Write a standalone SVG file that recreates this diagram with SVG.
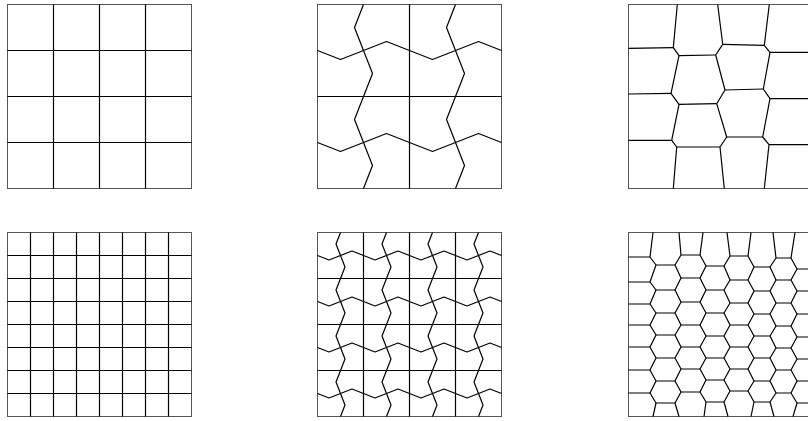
<svg xmlns="http://www.w3.org/2000/svg" width="808" height="421" viewBox="0 0 808 421">
<style>
.frame{fill:none;stroke:#555;stroke-width:1}
.ln{fill:none;stroke:#000;stroke-width:1.2;stroke-linejoin:round}
</style>
<rect width="808" height="421" fill="#fff"/>
<g id="grid-coarse">
<rect class="frame" x="7.5" y="4.5" width="184" height="184"/>
<path class="ln" d="M53.5 4.5V188.5M99.5 4.5V188.5M145.5 4.5V188.5M7.5 50.5H191.5M7.5 96.5H191.5M7.5 142.5H191.5"/>
</g>
<g id="wave-coarse">
<rect class="frame" x="317.5" y="4.5" width="184" height="184"/>
<path class="ln" d="M409.5 4.5V188.5M317.5 96.5H501.5"/>
<path class="ln" d="M317.5 50.5L340.5 59.5L386.5 41.5L409.5 50.5L432.5 59.5L478.5 41.5L501.5 50.5M317.5 142.5L340.5 151.5L386.5 133.5L409.5 142.5L432.5 151.5L478.5 133.5L501.5 142.5"/>
<path class="ln" d="M363.5 4.5L354.5 27.5L372.5 73.5L363.5 96.5L354.5 119.5L372.5 165.5L363.5 188.5M455.5 4.5L446.5 27.5L464.5 73.5L455.5 96.5L446.5 119.5L464.5 165.5L455.5 188.5"/>
</g>
<g id="voronoi-coarse">
<rect class="frame" x="628.5" y="4.5" width="184" height="184"/>
<path class="ln" d="M677.3 4.5L673.3 47.7L679 55.7L671 93.3L679 104.3L671.7 140.3L676.7 147L673.3 188.5"/>
<path class="ln" d="M717.7 4.5L722.7 44.3L715.7 55L725 90L716.7 103.7L726.7 137L720 147L724.3 188.5"/>
<path class="ln" d="M769.3 4.5L764.3 45.3L770 52.3L763.3 89L770 98.7L762.7 137L769 144.7L764.3 188.5"/>
<path class="ln" d="M628.5 48.3L673.3 47.7M628.5 94L671 93.3M628.5 140.3L671.7 140.3M679 55.7L715.7 55M679 104.3L716.7 103.7M676.7 147L720 147M722.7 44.3L764.3 45.3M725 90L763.3 89M726.7 137L762.7 137M770 52.3L812.5 52.3M770 98.7L812.5 98.7M769 144.7L812.5 144.7"/>
</g>
<g id="grid-fine">
<rect class="frame" x="7.5" y="232.5" width="184" height="184"/>
<path class="ln" d="M30.5 232.5V416.5M53.5 232.5V416.5M76.5 232.5V416.5M99.5 232.5V416.5M122.5 232.5V416.5M145.5 232.5V416.5M168.5 232.5V416.5M7.5 255.5H191.5M7.5 278.5H191.5M7.5 301.5H191.5M7.5 324.5H191.5M7.5 347.5H191.5M7.5 370.5H191.5M7.5 393.5H191.5"/>
</g>
<g id="wave-fine">
<rect class="frame" x="317.5" y="232.5" width="184" height="184"/>
<path class="ln" d="M363.5 232.5V416.5M409.5 232.5V416.5M455.5 232.5V416.5M317.5 278.5H501.5M317.5 324.5H501.5M317.5 370.5H501.5"/>
<path class="ln" d="M317.5 255.5l11.5 4.5l23 -9l11.5 4.5l11.5 4.5l23 -9l11.5 4.5l11.5 4.5l23 -9l11.5 4.5l11.5 4.5l23 -9l11.5 4.5M317.5 301.5l11.5 4.5l23 -9l11.5 4.5l11.5 4.5l23 -9l11.5 4.5l11.5 4.5l23 -9l11.5 4.5l11.5 4.5l23 -9l11.5 4.5M317.5 347.5l11.5 4.5l23 -9l11.5 4.5l11.5 4.5l23 -9l11.5 4.5l11.5 4.5l23 -9l11.5 4.5l11.5 4.5l23 -9l11.5 4.5M317.5 393.5l11.5 4.5l23 -9l11.5 4.5l11.5 4.5l23 -9l11.5 4.5l11.5 4.5l23 -9l11.5 4.5l11.5 4.5l23 -9l11.5 4.5"/>
<path class="ln" d="M340.5 232.5l-4.5 11.5l9 23l-4.5 11.5l-4.5 11.5l9 23l-4.5 11.5l-4.5 11.5l9 23l-4.5 11.5l-4.5 11.5l9 23l-4.5 11.5M386.5 232.5l-4.5 11.5l9 23l-4.5 11.5l-4.5 11.5l9 23l-4.5 11.5l-4.5 11.5l9 23l-4.5 11.5l-4.5 11.5l9 23l-4.5 11.5M432.5 232.5l-4.5 11.5l9 23l-4.5 11.5l-4.5 11.5l9 23l-4.5 11.5l-4.5 11.5l9 23l-4.5 11.5l-4.5 11.5l9 23l-4.5 11.5M478.5 232.5l-4.5 11.5l9 23l-4.5 11.5l-4.5 11.5l9 23l-4.5 11.5l-4.5 11.5l9 23l-4.5 11.5l-4.5 11.5l9 23l-4.5 11.5"/>
</g>
<g id="voronoi-fine">
<rect class="frame" x="628.5" y="232.5" width="184" height="184"/>
<path class="ln" d="M653 232.5L650 257L656 265L650 282L656 290L650 304L656 313L650 325L656 335L650 347L656 358L650 370L656 381L650 393L656 403L653 416.5"/>
<path class="ln" d="M679 232.5L681 255L675 265L681 278L675 290L681 302L675 313L681 325L675 335L681 347L675 358L681 369L675 381L681 392L675 403L679 416.5"/>
<path class="ln" d="M703 232.5L700 255L706 266L700 278L706 290L700 302L706 313L700 325L706 336L700 347L706 358L700 369L706 380L700 392L706 402L704 416.5"/>
<path class="ln" d="M727 232.5L730 256L724 266L730 280L724 290L730 303L724 313L730 325L724 336L730 347L724 358L730 369L724 380L730 391L724 402L728 416.5"/>
<path class="ln" d="M751 232.5L748 256L754 267L748 280L754 291L748 303L754 314L748 325L754 336L748 347L754 358L748 369L754 381L748 391L754 402L751 416.5"/>
<path class="ln" d="M773 232.5L776 258L770 267L776 280L770 291L776 303L770 314L776 326L770 336L776 348L770 358L776 370L770 381L776 393L770 402L774 416.5"/>
<path class="ln" d="M795 232.5L791 258L797 269L791 280L797 291L791 303L797 314L791 326L797 337L791 348L797 359L791 370L797 381L791 393L797 403L793 416.5"/>
<path class="ln" d="M628.5 257H650M628.5 282H650M628.5 304H650M628.5 325H650M628.5 347H650M628.5 370H650M628.5 393H650M656 265H675M656 290H675M656 313H675M656 335H675M656 358H675M656 381H675M656 403H675M681 255H700M681 278H700M681 302H700M681 325H700M681 347H700M681 369H700M681 392H700M706 266H724M706 290H724M706 313H724M706 336H724M706 358H724M706 380H724M706 402H724M730 256H748M730 280H748M730 303H748M730 325H748M730 347H748M730 369H748M730 391H748M754 267H770M754 291H770M754 314H770M754 336H770M754 358H770M754 381H770M754 402H770M776 258H791M776 280H791M776 303H791M776 326H791M776 348H791M776 370H791M776 393H791M797 269H812.5M797 291H812.5M797 314H812.5M797 337H812.5M797 359H812.5M797 381H812.5M797 403H812.5"/>
</g>
</svg>
